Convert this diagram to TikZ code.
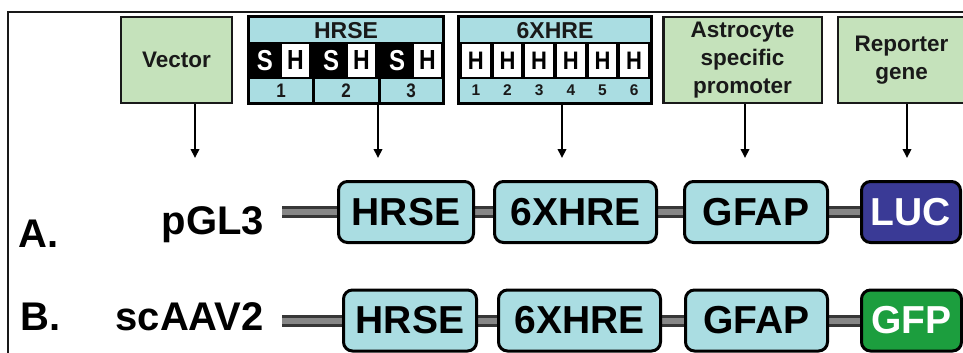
\documentclass[tikz,border=0pt]{standalone}
\usepackage{fontspec}
\setmainfont{Liberation Sans}
\usetikzlibrary{arrows.meta,backgrounds}
\definecolor{grn}{RGB}{197,226,187}
\definecolor{tealc}{RGB}{170,221,226}
\definecolor{lucc}{RGB}{58,58,150}
\definecolor{gfpc}{RGB}{28,158,62}
\definecolor{bardark}{RGB}{55,55,55}
\definecolor{barmid}{RGB}{135,135,135}
\definecolor{ink}{RGB}{25,25,25}
\begin{document}
\begin{tikzpicture}[x=1pt,y=-1pt,
  topbox/.style={draw=ink, line width=2.5pt, fill=grn, minimum height=85.5pt,
    inner sep=0pt, align=center, text=ink,
    font=\fontsize{22.5}{28}\selectfont\bfseries},
  compbox/.style={fill=black, minimum height=90pt, inner sep=0pt},
  hdr/.style={inner sep=0pt, font=\fontsize{23}{23}\selectfont\bfseries, text=ink},
  wlet/.style={inner sep=0pt, text=white, font=\fontsize{24}{24}\selectfont\bfseries},
  blet/.style={inner sep=0pt, text=black, font=\fontsize{23}{23}\selectfont\bfseries},
  num/.style={inner sep=0pt, text=ink, font=\fontsize{17}{17}\selectfont\bfseries},
  genebox/.style={draw=black, line width=3pt, rounded corners=9pt, fill=tealc,
    minimum height=61pt, inner sep=0pt, font=\fontsize{39}{44}\selectfont\bfseries},
  lab/.style={inner sep=0pt, font=\fontsize{40}{44}\selectfont\bfseries},
  conn/.style={draw=black, line width=2pt, -{Triangle[length=9pt,width=8.5pt]}},
  bar/.style={draw=bardark, line width=12pt, postaction={draw=barmid, line width=6pt}}
]
\useasboundingbox (0,0) rectangle (963,353);
\clip (0,0) rectangle (963,353);
% frame
\draw[draw=ink, line width=2pt] (8,370) -- (8,12) -- (980,12);

% ---- top row ----
\node[topbox, minimum width=111pt] (vec) at (176.5,60) {Vector};

% HRSE composite
\node[compbox, minimum width=198pt] (hrse) at (346,60) {};
\fill[tealc] (250,18) rectangle (442,42);
\node[hdr] (hrsehd) at (346,30.5) {HRSE};
\foreach \i in {0,1,2}{
  \pgfmathsetmacro{\b}{247+66*\i}
  \node[wlet] (hs\i) at (\b+18,60.5) {\scalebox{1}[1.2]{S}};
  \fill[white] (\b+35,44.5) rectangle (\b+62,76.5);
  \node[blet] (hh\i) at (\b+48.5,60.5) {\scalebox{1}[1.2]{H}};
}
\fill[tealc] (250,79) rectangle (311.5,102);
\fill[tealc] (314.5,79) rectangle (377.5,102);
\fill[tealc] (380.5,79) rectangle (442,102);
\node[num] (hn1) at (281,90.5) {\scalebox{1}[1.15]{1}};
\node[num] (hn2) at (346,90.5) {\scalebox{1}[1.15]{2}};
\node[num] (hn3) at (411,90.5) {\scalebox{1}[1.15]{3}};

% 6XHRE composite
\node[compbox, minimum width=196pt] (six) at (555,60) {};
\fill[tealc] (460,18) rectangle (650,42);
\node[hdr] (sixhd) at (555,30.5) {6XHRE};
\foreach \i in {0,...,5}{
  \pgfmathsetmacro{\b}{460+31.667*\i}
  \fill[white] (\b+2,44.5) rectangle (\b+29.667,76.5);
  \node[blet, font=\fontsize{22}{22}\selectfont\bfseries] (sh\i) at (\b+15.833,60.5) {\scalebox{1}[1.15]{H}};
}
\fill[tealc] (460,79) rectangle (650,102);
\foreach \i/\n in {0/1,1/2,2/3,3/4,4/5,5/6}{
  \node[num, font=\fontsize{15.5}{16}\selectfont\bfseries] (sn\i) at (460+31.667*\i+15.833,90) {\n};
}

\node[topbox, minimum width=158.5pt] (astro) at (742.5,60) {Astrocyte\\specific\\promoter};
\node[topbox, minimum width=127pt] (rep) at (901.5,60) {Reporter\\gene};

% arrows
\coordinate (t1) at (195,158);
\coordinate (t2) at (378,158);
\coordinate (t3) at (562,158);
\coordinate (t4) at (745,158);
\coordinate (t5) at (907,158);
\draw[conn] (vec.south -| t1) -- (t1);
\draw[conn] (hrse.south -| t2) -- (t2);
\draw[conn] (six.south -| t3) -- (t3);
\draw[conn] (astro.south -| t4) -- (t4);
\draw[conn] (rep.south -| t5) -- (t5);

% ---- row A ----
\node[lab, anchor=base west] (la) at (18,247) {A.};
\node[lab, anchor=base east] (pgl) at (264,234) {pGL3};
\node[genebox, minimum width=135pt] (hA) at (406,212) {HRSE};
\node[genebox, minimum width=162pt] (xA) at (575.5,212) {6XHRE};
\node[genebox, minimum width=143pt] (gA) at (756,212) {GFAP};
\node[genebox, minimum width=99pt, fill=lucc, text=white] (lA) at (911,212) {LUC};

% ---- row B ----
\node[lab, anchor=base west] (lb) at (20,330) {B.};
\node[lab, anchor=base east] (sca) at (264,330) {scAAV2};
\node[genebox, minimum width=133pt] (hB) at (410,320.5) {HRSE};
\node[genebox, minimum width=162pt] (xB) at (579.5,320.5) {6XHRE};
\node[genebox, minimum width=142pt] (gB) at (756.5,320.5) {GFAP};
\node[genebox, minimum width=100pt, fill=gfpc, text=white] (gfp) at (911.5,320.5) {GFP};

% bars
\coordinate (bA) at (282,212);
\coordinate (bB) at (282,320.5);
\begin{scope}[on background layer]
\draw[bar] (bA) -- (hA.west);
\draw[bar] (hA.east) -- (xA.west);
\draw[bar] (xA.east) -- (gA.west);
\draw[bar] (gA.east) -- (lA.west);
\draw[bar] (bB) -- (hB.west);
\draw[bar] (hB.east) -- (xB.west);
\draw[bar] (xB.east) -- (gB.west);
\draw[bar] (gB.east) -- (gfp.west);
\end{scope}
\end{tikzpicture}
\end{document}
